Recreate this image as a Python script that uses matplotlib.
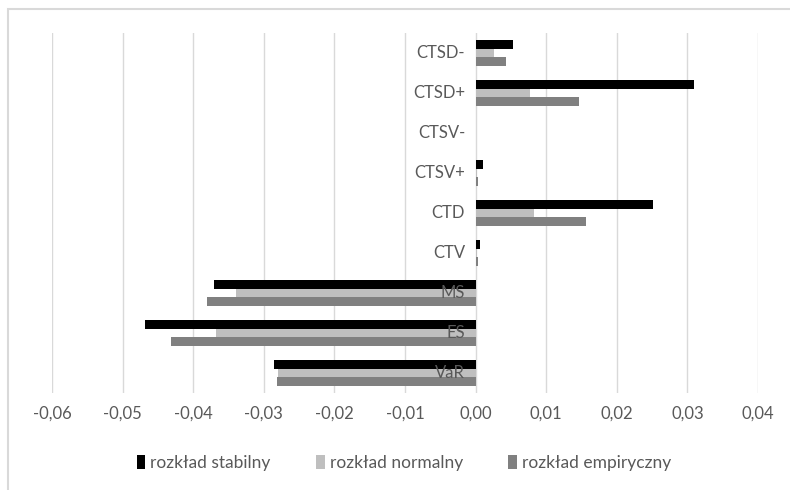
import numpy as np
import matplotlib
matplotlib.use("Agg")
import matplotlib.pyplot as plt
from matplotlib.patches import Rectangle

plt.rcParams['font.family'] = ['Lato', 'DejaVu Sans']

# categories listed bottom to top
kategorie = ["VaR", "ES", "MS", "CTV", "CTD", "CTSV+", "CTSV-", "CTSD+", "CTSD-"]
stabilny = [-0.0285, -0.0468, -0.0371, 0.0006, 0.0251, 0.0010, 0.0, 0.0309, 0.0053]
normalny = [-0.0280, -0.0367, -0.0340, 0.0002, 0.0083, 0.0002, 0.0, 0.0077, 0.0026]
empiryczny = [-0.0282, -0.0431, -0.0381, 0.0003, 0.0156, 0.0003, 0.0, 0.0146, 0.0043]
seria = ["rozkład stabilny", "rozkład normalny", "rozkład empiryczny"]
kolory = ["#000000", "#BFBFBF", "#808080"]
ticki = [-0.06, -0.05, -0.04, -0.03, -0.02, -0.01, 0.0, 0.01, 0.02, 0.03, 0.04]

tekst = "#595959"
siatka = "#D9D9D9"

fig = plt.figure(figsize=(7.9, 4.9), dpi=100)
ax = fig.add_axes([52 / 790, 1 - 393 / 490, 706 / 790, 360 / 490])

# chart frame
fig.patches.append(Rectangle((8 / 790, -0.05), 1.0, 1 - 9 / 490 + 0.05,
                             transform=fig.transFigure, fill=False,
                             edgecolor=siatka, linewidth=1.5))

y = np.arange(len(kategorie))
h = 0.215
ax.barh(y + h, stabilny, height=h, color=kolory[0], label=seria[0], zorder=3)
ax.barh(y, normalny, height=h, color=kolory[1], label=seria[1], zorder=3)
ax.barh(y - h, empiryczny, height=h, color=kolory[2], label=seria[2], zorder=3)

for i, k in enumerate(kategorie):
    ax.text(-0.0015, i, k, ha='right', va='center', fontsize=12,
            color=tekst, zorder=4)

ax.set_xlim(-0.06, 0.04)
ax.set_ylim(-0.5, len(kategorie) - 0.5)
ax.set_xticks(ticki)
ax.set_xticklabels([("%.2f" % t).replace(".", ",") for t in ticki],
                   fontsize=12, color=tekst)
ax.set_yticks([])
ax.tick_params(axis='x', length=0, pad=9)
ax.grid(axis='x', color=siatka, linewidth=1, zorder=0)
for s in ax.spines.values():
    s.set_visible(False)

leg = fig.legend(loc='center', bbox_to_anchor=(404 / 790, 1 - 463 / 490),
                 ncol=3, frameon=False, fontsize=12.5, handlelength=0.5,
                 handleheight=0.8, handletextpad=0.3, columnspacing=2.6)
for t in leg.get_texts():
    t.set_color(tekst)

fig.savefig("out.png", dpi=100)
